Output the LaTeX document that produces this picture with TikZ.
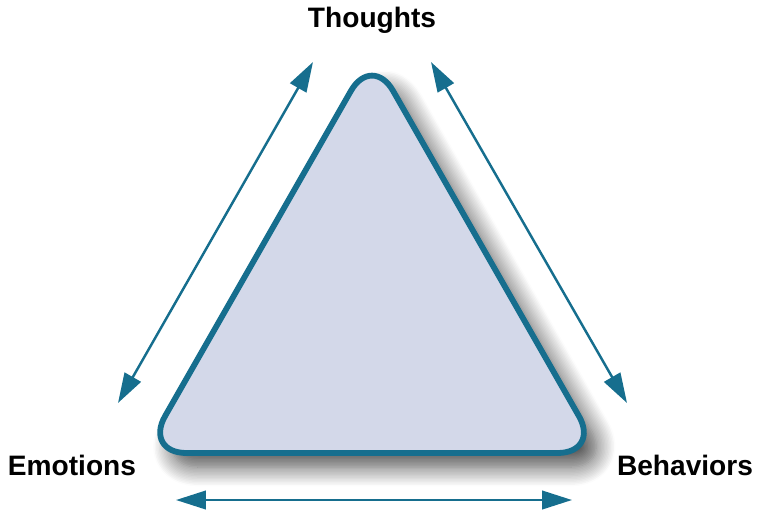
\documentclass[tikz,border=0pt]{standalone}
\usepackage{fontspec}
\setmainfont{Liberation Sans}
\usetikzlibrary{arrows.meta,shadows.blur}
\definecolor{teal}{RGB}{22,110,142}
\definecolor{lavender}{RGB}{211,216,233}
\tikzset{
  label/.style={font=\fontsize{16}{19}\selectfont\bfseries, inner sep=0pt},
  twoway/.style={teal, line width=1.4pt, {Triangle[length=17pt,width=10.5pt]}-{Triangle[length=17pt,width=10.5pt]}}
}
\begin{document}
\begin{tikzpicture}[x=0.02cm, y=-0.02cm]
    \useasboundingbox (0,0) rectangle (759,514);

    % Dreieck
    \coordinate (top) at (372,54);
    \coordinate (bl) at (144,453);
    \coordinate (br) at (600,453);
    \draw[teal, line width=3.3pt, fill=lavender, rounded corners=0.85cm,
          blur shadow={shadow xshift=7pt, shadow yshift=-8pt, shadow blur radius=11pt,
                       shadow blur steps=14, shadow opacity=70}]
        (top) -- (br) -- (bl) -- cycle;

    % Beschriftungen
    \node[label] (thoughts) at (372,20) {Thoughts};
    \node[label] (emotions) at (72,465) {Emotions};
    \node[label] (behaviors) at (685,465) {Behaviors};

    % Pfeile
    \coordinate (l1) at (118,403);
    \coordinate (l2) at (313,62);
    \coordinate (r1) at (431,62);
    \coordinate (r2) at (627,403);
    \coordinate (b1) at (176,500);
    \coordinate (b2) at (572,500);
    \draw[twoway] (l1) -- (l2);
    \draw[twoway] (r1) -- (r2);
    \draw[twoway] (b1) -- (b2);
\end{tikzpicture}
\end{document}
